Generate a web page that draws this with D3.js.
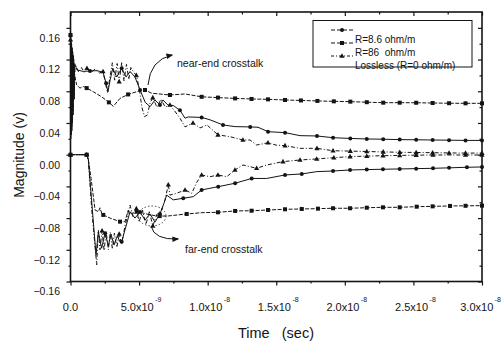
<!DOCTYPE html>
<html>
<head>
<meta charset="utf-8">
<script src="https://cdn.jsdelivr.net/npm/d3@7"></script>
<style>
  body { margin: 0; background: #fff; }
  svg { display: block; font-family: "Liberation Sans", Arial, sans-serif; }
</style>
</head>
<body>
<svg id="chart" width="503" height="342"></svg>
<script>
// time in ns, magnitude in volts
const nearR86 = [[0,0.151],[0.02,0.03],[0.04,0.14],[0.06,0.035],[0.08,0.135],[0.1,0.04],[0.12,0.13],[0.14,0.045],[0.16,0.125],[0.19,0.055],[0.22,0.115],[0.26,0.07],[0.3,0.1],[0.45,0.088],[0.69,0.084],[0.95,0.086],[1.18,0.084],[1.7,0.079],[2.27,0.073],[2.8,0.066],[3.12,0.061],[3.61,0.071],[4.2,0.076],[4.83,0.0795],[5.43,0.0816],[5.92,0.0775],[7.25,0.0753],[8.35,0.0766],[9.56,0.073],[10.75,0.072],[12.0,0.071],[13.2,0.0703],[14.4,0.0698],[15.64,0.069],[16.8,0.0684],[18.0,0.0678],[19.2,0.0673],[20.4,0.0669],[21.6,0.0662],[22.8,0.0656],[24.0,0.0656],[25.2,0.0655],[26.4,0.0652],[27.6,0.0649],[28.8,0.0648],[30,0.0648]];

const nearR8_6 = [[0,0.15],[0.02,0.02],[0.04,0.145],[0.06,0.025],[0.08,0.14],[0.1,0.03],[0.12,0.135],[0.14,0.04],[0.16,0.13],[0.19,0.05],[0.22,0.125],[0.26,0.07],[0.3,0.115],[0.47,0.107],[0.93,0.105],[1.42,0.1056],[1.93,0.106],[2.37,0.104],[2.6,0.09],[2.73,0.0795],[2.9,0.095],[3.08,0.109],[3.37,0.098],[3.73,0.109],[4.05,0.098],[4.34,0.105],[4.7,0.098],[5.07,0.0816],[5.45,0.066],[5.8,0.0606],[6.16,0.069],[6.52,0.0627],[6.74,0.069],[7.1,0.0627],[7.5,0.062],[7.98,0.056],[8.35,0.046],[8.57,0.0476],[9.56,0.047],[10.17,0.044],[11.12,0.0375],[12.0,0.0354],[13.1,0.035],[13.67,0.0346],[14.4,0.029],[15.64,0.0278],[16.73,0.024],[17.97,0.0236],[19.14,0.0214],[20.4,0.0205],[21.6,0.0198],[22.8,0.0195],[24.0,0.019],[25.2,0.0188],[26.4,0.0185],[27.6,0.0183],[28.8,0.018],[30,0.018]];

const nearLossless = [[0,0.145],[0.02,0.025],[0.04,0.14],[0.06,0.03],[0.08,0.135],[0.1,0.035],[0.12,0.13],[0.14,0.045],[0.17,0.125],[0.2,0.06],[0.24,0.12],[0.28,0.08],[0.33,0.11],[0.4,0.112],[0.6,0.104],[0.8,0.11],[1.0,0.104],[1.2,0.109],[1.5,0.104],[1.8,0.108],[2.1,0.103],[2.37,0.105],[2.55,0.09],[2.7,0.078],[2.85,0.095],[3.05,0.116],[3.22,0.094],[3.4,0.115],[3.55,0.092],[3.73,0.116],[3.9,0.093],[4.08,0.114],[4.25,0.095],[4.4,0.11],[4.6,0.104],[4.8,0.1],[5.0,0.085],[5.2,0.06],[5.4,0.048],[5.6,0.05],[5.8,0.065],[6.0,0.072],[6.3,0.06],[6.6,0.07],[6.9,0.06],[7.25,0.0627],[7.6,0.055],[7.98,0.046],[8.35,0.035],[8.93,0.04],[9.44,0.0337],[9.95,0.0375],[10.75,0.025],[11.63,0.0227],[12.57,0.0185],[13.09,0.0185],[13.57,0.0122],[14.4,0.015],[15.0,0.012],[15.64,0.0114],[16.73,0.008],[17.97,0.008],[19.14,0.005],[20.4,0.0045],[21.6,0.004],[22.8,0.0035],[24.0,0.003],[25.2,0.0028],[26.4,0.0025],[27.6,0.0022],[28.8,0.002],[30,0.002]];

const farR86 = [[0,0],[0.6,0],[1.18,0],[1.3,-0.006],[1.5,-0.03],[1.79,-0.0698],[2.03,-0.072],[2.15,-0.067],[2.27,-0.0736],[2.39,-0.076],[2.88,-0.08],[3.61,-0.0845],[3.97,-0.0845],[4.21,-0.07],[4.4,-0.074],[4.56,-0.0736],[4.83,-0.072],[5.29,-0.0736],[5.8,-0.076],[6.5,-0.0775],[7.13,-0.0773],[8.47,-0.0748],[9.56,-0.0732],[10.75,-0.0727],[12.0,-0.071],[13.2,-0.0707],[14.4,-0.0698],[15.64,-0.0689],[16.86,-0.0685],[18.04,-0.0681],[19.14,-0.0676],[20.38,-0.0676],[21.6,-0.0669],[22.78,-0.0664],[24.0,-0.0664],[25.24,-0.0656],[26.4,-0.0652],[27.67,-0.0647],[28.8,-0.0645],[30,-0.0643]];

const farR8_6 = [[0,0],[0.6,0],[1.18,0],[1.3,-0.006],[1.55,-0.06],[1.86,-0.1265],[2.03,-0.0975],[2.27,-0.118],[2.52,-0.099],[2.76,-0.115],[2.95,-0.1],[3.17,-0.114],[3.41,-0.1026],[3.61,-0.11],[3.73,-0.11],[3.97,-0.095],[4.34,-0.072],[4.7,-0.08],[5.07,-0.0723],[5.43,-0.0824],[5.8,-0.0748],[6.16,-0.085],[6.52,-0.0748],[6.8,-0.062],[7.01,-0.051],[7.49,-0.057],[8.22,-0.055],[8.95,-0.053],[9.56,-0.0445],[10.17,-0.0424],[10.77,-0.0404],[12.0,-0.036],[13.21,-0.03],[14.3,-0.03],[15.64,-0.0256],[16.86,-0.0243],[17.95,-0.0214],[19.14,-0.0206],[20.38,-0.0193],[21.6,-0.0188],[22.78,-0.0184],[24.0,-0.018],[25.2,-0.0176],[26.43,-0.0172],[27.6,-0.0166],[28.9,-0.0159],[30,-0.0155]];

const farLossless = [[0,0],[0.6,0],[1.18,0],[1.3,-0.006],[1.55,-0.07],[1.91,-0.139],[2.03,-0.095],[2.15,-0.12],[2.3,-0.096],[2.45,-0.121],[2.6,-0.097],[2.76,-0.12],[2.9,-0.098],[3.05,-0.119],[3.2,-0.099],[3.38,-0.117],[3.55,-0.1],[3.73,-0.113],[3.97,-0.09],[4.34,-0.0635],[4.55,-0.078],[4.8,-0.068],[5.0,-0.085],[5.25,-0.07],[5.5,-0.088],[5.75,-0.072],[6.0,-0.09],[6.3,-0.075],[6.65,-0.07],[6.89,-0.057],[7.13,-0.038],[7.25,-0.051],[7.74,-0.0487],[8.35,-0.0445],[8.84,-0.0487],[9.2,-0.035],[9.56,-0.0256],[10.17,-0.0278],[10.75,-0.0256],[11.39,-0.0278],[11.99,-0.0193],[12.58,-0.013],[13.57,-0.0172],[14.3,-0.013],[15.49,-0.0088],[16.73,-0.0067],[17.95,-0.0054],[19.2,-0.0038],[20.38,-0.0025],[21.6,-0.0018],[22.78,-0.0013],[24.0,-0.0009],[25.2,-0.0006],[26.43,-0.0004],[28.8,-0.0004],[30,-0.0004]];

const seriesNames = ["R=8.6 ohm/m", "R=86  ohm/m", "Lossless (R=0 ohm/m)"];

const yTicks = [-0.16, -0.12, -0.08, -0.04, 0, 0.04, 0.08, 0.12, 0.16];
const yMinorTicks = [-0.14, -0.10, -0.06, -0.02, 0.02, 0.06, 0.10, 0.14];
const xTicks = [0, 5, 10, 15, 20, 25, 30];
const xMinorTicks = [2.5, 7.5, 12.5, 17.5, 22.5, 27.5];
const xTickText = ["0.0", "5.0x10", "1.0x10", "1.5x10", "2.0x10", "2.5x10", "3.0x10"];
const xTickExp = ["", "-9", "-8", "-8", "-8", "-8", "-8"];

const svg = d3.select("#chart");
const plotLeft = 70.5, plotRight = 482, plotTop = 12, plotBottom = 281.5;

const x = d3.scaleLinear().domain([0, 30]).range([plotLeft, plotRight]);
const y = d3.scaleLinear().domain([-0.16, 0.18]).range([plotBottom, plotTop]);

const ink = "#141414";

// axes: left/bottom ticks outside, top/right ticks inside
function tidy(g) {
  g.select(".domain").remove();
  g.selectAll("line").attr("stroke", ink).attr("stroke-width", 1.2);
}

svg.append("g").attr("transform", `translate(${plotLeft},0)`)
  .call(d3.axisLeft(y).tickValues(yTicks).tickSize(4).tickPadding(6.5).tickFormat(d3.format(".2f")))
  .call(tidy)
  .call(g => g.selectAll("text").attr("y", 10).attr("fill", ink)
    .style("font-size", "10.5px").style("font-family", "Liberation Sans, Arial, sans-serif"));
svg.append("g").attr("transform", `translate(${plotLeft},0)`)
  .call(d3.axisLeft(y).tickValues(yMinorTicks).tickSize(2).tickFormat(""))
  .call(tidy);

svg.append("g").attr("transform", `translate(${plotRight},0)`)
  .call(d3.axisRight(y).tickValues(yTicks).tickSize(-4).tickFormat(""))
  .call(tidy);
svg.append("g").attr("transform", `translate(${plotRight},0)`)
  .call(d3.axisRight(y).tickValues(yMinorTicks).tickSize(-2.5).tickFormat(""))
  .call(tidy);

svg.append("g").attr("transform", `translate(0,${plotBottom})`)
  .call(d3.axisBottom(x).tickValues(xTicks).tickSize(4).tickFormat(""))
  .call(tidy);
svg.append("g").attr("transform", `translate(0,${plotBottom})`)
  .call(d3.axisBottom(x).tickValues(xMinorTicks).tickSize(2).tickFormat(""))
  .call(tidy);

svg.append("g").attr("transform", `translate(0,${plotTop})`)
  .call(d3.axisBottom(x).tickValues(xTicks).tickSize(4).tickFormat(""))
  .call(tidy);
svg.append("g").attr("transform", `translate(0,${plotTop})`)
  .call(d3.axisBottom(x).tickValues(xMinorTicks).tickSize(2.5).tickFormat(""))
  .call(tidy);

svg.append("rect")
  .attr("x", plotLeft).attr("y", plotTop)
  .attr("width", plotRight - plotLeft).attr("height", plotBottom - plotTop)
  .attr("fill", "none").attr("stroke", ink).attr("stroke-width", 1.6);

// x tick labels with exponent
const last = xTicks.length - 1;
const xl = svg.append("g").selectAll("text").data(xTicks).join("text")
  .attr("x", (d, i) => i === last ? 501 : x(d) + (i === 0 ? 0 : 2))
  .attr("y", 311)
  .attr("text-anchor", (d, i) => i === last ? "end" : "middle")
  .attr("fill", ink)
  .style("font-size", "11px");
xl.append("tspan").text((d, i) => xTickText[i]);
xl.append("tspan").attr("dy", -9).attr("dx", 1.5)
  .style("font-size", "7px")
  .text((d, i) => xTickExp[i]);

svg.append("text")
  .attr("x", 276).attr("y", 338)
  .attr("text-anchor", "middle").attr("fill", ink)
  .style("font-size", "14.5px").attr("xml:space", "preserve")
  .text("Time   (sec)");

svg.append("text")
  .attr("transform", "translate(24,155) rotate(-90)")
  .attr("text-anchor", "middle").attr("fill", ink)
  .style("font-size", "14px")
  .text("Magnitude (v)");

// curves
const line = d3.line().x(d => x(d[0])).y(d => y(d[1]));

const styles = [
  { dash: null, shape: "circle" },
  { dash: "4,1.5", shape: "square" },
  { dash: "4,2,1,2", shape: "triangle" }
];
const groups = [
  [nearR8_6, farR8_6],
  [nearR86, farR86],
  [nearLossless, farLossless]
];

const plot = svg.append("g");

function markerPoints(data) {
  const out = [data[0]];
  let prev = data[0][0];
  data.forEach(d => {
    if (d[0] >= 0.4 && d[0] - prev >= 1.1) { out.push(d); prev = d[0]; }
  });
  return out;
}

function drawMarker(g, shape, px, py) {
  if (shape === "circle") {
    g.append("circle").attr("cx", px).attr("cy", py).attr("r", 2).attr("fill", ink);
  } else if (shape === "square") {
    g.append("rect").attr("x", px - 2).attr("y", py - 2).attr("width", 4).attr("height", 4).attr("fill", ink);
  } else {
    g.append("path").attr("d", `M${px},${py - 2.8}L${px + 2.6},${py + 1.8}L${px - 2.6},${py + 1.8}Z`).attr("fill", ink);
  }
}

groups.forEach((pair, i) => {
  pair.forEach(data => {
    plot.append("path")
      .datum(data)
      .attr("d", line)
      .attr("fill", "none")
      .attr("stroke", ink)
      .attr("stroke-width", 1)
      .attr("stroke-dasharray", styles[i].dash);
    const mg = plot.append("g");
    markerPoints(data).forEach(d => drawMarker(mg, styles[i].shape, x(d[0]), y(d[1])));
  });
});

// legend
const legend = svg.append("g");
legend.append("rect")
  .attr("x", 313).attr("y", 20.5).attr("width", 159).attr("height", 46.5)
  .attr("fill", "none").attr("stroke", ink).attr("stroke-width", 1);
seriesNames.forEach((name, i) => {
  const ly = 30 + i * 13;
  legend.append("line")
    .attr("x1", 331).attr("x2", 353).attr("y1", ly).attr("y2", ly)
    .attr("stroke", ink).attr("stroke-width", 1)
    .attr("stroke-dasharray", i === 2 ? "3,2,1,2" : "4,2");
  drawMarker(legend, styles[i].shape, 342, ly);
  legend.append("text")
    .attr("x", 355).attr("y", ly + 13)
    .attr("fill", ink)
    .style("font-size", "10px").attr("xml:space", "preserve")
    .text(name);
});

// annotations
const defs = svg.append("defs");
defs.append("marker")
  .attr("id", "arrowHead")
  .attr("viewBox", "0 -5 10 10")
  .attr("refX", 8).attr("refY", 0)
  .attr("markerWidth", 7).attr("markerHeight", 7)
  .attr("markerUnits", "userSpaceOnUse")
  .attr("orient", "auto")
  .append("path").attr("d", "M0,-4L10,0L0,4Z").attr("fill", ink);

svg.append("path")
  .attr("d", "M148,85 Q150,60 172,55")
  .attr("fill", "none").attr("stroke", ink).attr("stroke-width", 1)
  .attr("marker-end", "url(#arrowHead)");
svg.append("text")
  .attr("x", 177).attr("y", 67)
  .attr("fill", ink).style("font-size", "10.5px")
  .text("near-end crosstalk");

svg.append("ellipse")
  .attr("cx", 152).attr("cy", 216).attr("rx", 14).attr("ry", 10)
  .attr("fill", "none").attr("stroke", ink).attr("stroke-width", 0.8)
  .attr("stroke-dasharray", "1.5,2");
svg.append("path")
  .attr("d", "M151,226 Q154,240 178,239")
  .attr("fill", "none").attr("stroke", ink).attr("stroke-width", 1)
  .attr("marker-end", "url(#arrowHead)");
svg.append("text")
  .attr("x", 185).attr("y", 253)
  .attr("fill", ink).style("font-size", "10.5px")
  .text("far-end crosstalk");
</script>
</body>
</html>
